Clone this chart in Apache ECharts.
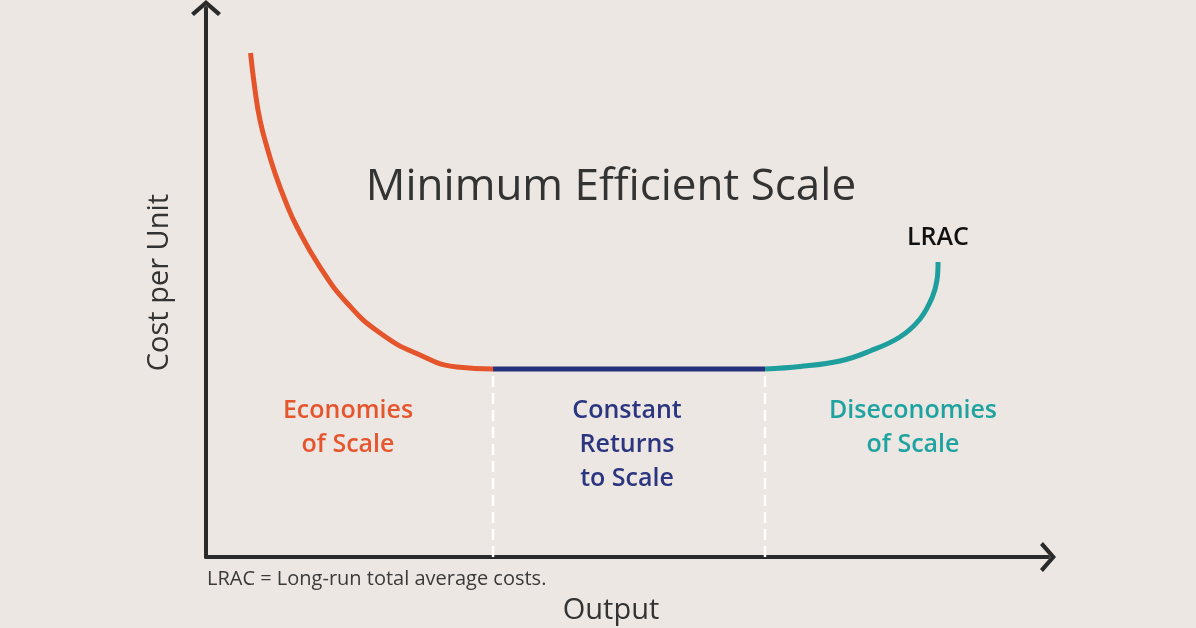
<!DOCTYPE html>
<html>
<head>
<meta charset="utf-8">
<script src="https://cdn.jsdelivr.net/npm/echarts@6/dist/echarts.min.js"></script>
<style>
html,body{margin:0;padding:0;background:#ece7e2;}
#c{width:1196px;height:628px;}
</style>
</head>
<body>
<div id="c"></div>
<script>
// Long-run average cost curve segments [output, cost per unit]
const economiesOfScale = [
  [5.29, 91.80], [5.82, 85.06], [6.41, 79.60], [7.24, 74.68], [8.19, 69.95],
  [9.38, 65.03], [10.81, 60.11], [13.54, 52.82], [16.75, 46.27],
  [20.67, 40.80], [25.42, 36.79], [29.81, 34.61], [34.09, 34.24]
];
const constantReturns = [[34.09, 34.24], [66.39, 34.24]];
const diseconomiesOfScale = [
  [66.39, 34.24], [70.55, 34.70], [75.30, 35.70], [78.86, 37.52], [82.42, 40.07],
  [84.80, 43.35], [86.22, 47.18], [86.82, 50.46], [86.94, 53.73]
];
const boundaryA = [[34.09, 0], [34.09, 33.0]];
const boundaryB = [[66.39, 0], [66.39, 33.0]];

const chevron = 'path://M0,13 L15,0 L30,13 L27,16 L15,5.5 L3,16 Z';
const font = '"Open Sans", "Noto Sans", sans-serif';

const chart = echarts.init(document.getElementById('c'), null, {renderer: 'canvas'});
chart.setOption({
  backgroundColor: '#ece7e2',
  animation: false,
  grid: {left: 206, right: 148, top: 8, bottom: 71, outerBoundsMode: 'none', containLabel: false},
  xAxis: {
    type: 'value', min: 0, max: 100,
    axisLine: {show: true, lineStyle: {color: '#2a2a2a', width: 4}, symbol: ['none', chevron], symbolSize: [30, 16]},
    axisTick: {show: false}, axisLabel: {show: false}, splitLine: {show: false}
  },
  yAxis: {
    type: 'value', min: 0, max: 100,
    name: 'Cost per Unit', nameLocation: 'middle', nameGap: 32, nameRotate: 90,
    nameTextStyle: {fontFamily: font, fontSize: 29, color: '#333', fontWeight: 500},
    axisLine: {show: true, lineStyle: {color: '#2a2a2a', width: 4}, symbol: ['none', chevron], symbolSize: [30, 16]},
    axisTick: {show: false}, axisLabel: {show: false}, splitLine: {show: false}
  },
  series: [
    {type: 'line', data: boundaryA, showSymbol: false, silent: true,
     lineStyle: {color: '#ffffff', width: 2.5, type: [11, 6]}},
    {type: 'line', data: boundaryB, showSymbol: false, silent: true,
     lineStyle: {color: '#ffffff', width: 2.5, type: [11, 6]}},
    {type: 'line', data: economiesOfScale, smooth: 0.5, showSymbol: false,
     lineStyle: {color: '#e5552b', width: 5, cap: 'butt'}},
    {type: 'line', data: constantReturns, showSymbol: false,
     lineStyle: {color: '#27327c', width: 5}},
    {type: 'line', data: diseconomiesOfScale, smooth: 0.4, showSymbol: false,
     lineStyle: {color: '#1e9e9c', width: 5, cap: 'butt'}}
  ],
  graphic: [
    {type: 'text', x: 611, y: 187,
     style: {text: 'Minimum Efficient Scale', font: '500 44px ' + font, fill: '#333', align: 'center', verticalAlign: 'middle'}},
    {type: 'text', x: 938, y: 238,
     style: {text: 'LRAC', font: '600 25px ' + font, fill: '#111', align: 'center', verticalAlign: 'middle'}},
    {type: 'text', x: 348, y: 428,
     style: {text: 'Economies\nof Scale', font: '600 25px ' + font, fill: '#e5562e', align: 'center', verticalAlign: 'middle', lineHeight: 34}},
    {type: 'text', x: 627, y: 445,
     style: {text: 'Constant\nReturns\nto Scale', font: '600 25px ' + font, fill: '#2b3580', align: 'center', verticalAlign: 'middle', lineHeight: 34}},
    {type: 'text', x: 913, y: 428,
     style: {text: 'Diseconomies\nof Scale', font: '600 25px ' + font, fill: '#1ea3a0', align: 'center', verticalAlign: 'middle', lineHeight: 34}},
    {type: 'text', x: 207, y: 579,
     style: {text: 'LRAC = Long-run total average costs.', font: '20px ' + font, fill: '#3a3a3a', align: 'left', verticalAlign: 'middle'}},
    {type: 'text', x: 611, y: 611,
     style: {text: 'Output', font: '500 29px ' + font, fill: '#333', align: 'center', verticalAlign: 'middle'}}
  ]
});
</script>
</body>
</html>
